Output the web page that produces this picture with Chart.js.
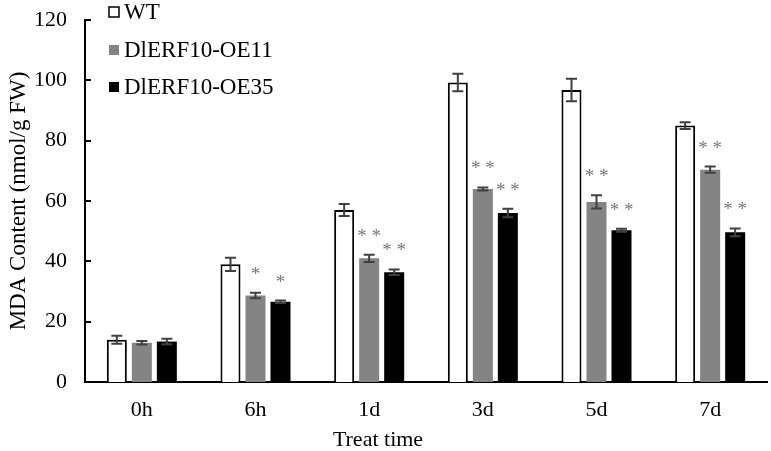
<!DOCTYPE html>
<html>
<head>
<meta charset="utf-8">
<script src="https://cdn.jsdelivr.net/npm/chart.js@4.4.1/dist/chart.umd.min.js"></script>
<style>
  html, body { margin: 0; padding: 0; background: #fff; }
  .chart-container { width: 771px; height: 451px; }
</style>
</head>
<body>
<div class="chart-container"><canvas id="mdaChart"></canvas></div>
<script>
const treatTimes = ['0h', '6h', '1d', '3d', '5d', '7d']
const seriesNames = ['WT', 'DlERF10-OE11', 'DlERF10-OE35']
const wtValues = [14, 39, 57, 99.3, 96.8, 85]
const oe11Values = [13, 28.7, 41, 64, 59.7, 70.4]
const oe35Values = [13.4, 26.6, 36.4, 56, 50.3, 49.6]
const wtErrors = [1.3, 2.2, 2.0, 2.9, 3.7, 1.1]
const oe11Errors = [0.6, 0.9, 1.2, 0.5, 2.2, 1.0]
const oe35Errors = [0.9, 0.4, 0.9, 1.4, 0.5, 1.3]
const oe11Marks = ['', '*', '**', '**', '**', '**']
const oe35Marks = ['', '*', '**', '**', '**', '**']
const yTicks = [0, 20, 40, 60, 80, 100, 120]

const FONT = 'Liberation Serif, Times New Roman, serif'

// error bars, significance marks, inward y ticks, legend and x title
const extrasPlugin = {
  id: 'extras',
  afterDatasetsDraw(chart) {
    const ctx = chart.ctx
    const y = chart.scales.y
    const errs = [wtErrors, oe11Errors, oe35Errors]
    const marks = [null, oe11Marks, oe35Marks]
    ctx.save()
    chart.data.datasets.forEach((ds, i) => {
      const meta = chart.getDatasetMeta(i)
      meta.data.forEach((bar, j) => {
        const v = ds.data[j], e = errs[i][j]
        const yTop = y.getPixelForValue(v + e)
        const yBot = y.getPixelForValue(v - e)
        ctx.strokeStyle = '#404040'
        ctx.lineWidth = 2
        ctx.beginPath()
        ctx.moveTo(bar.x, yTop); ctx.lineTo(bar.x, yBot)
        ctx.moveTo(bar.x - 5.5, yTop); ctx.lineTo(bar.x + 5.5, yTop)
        ctx.moveTo(bar.x - 5.5, yBot); ctx.lineTo(bar.x + 5.5, yBot)
        ctx.stroke()
        if (marks[i] && marks[i][j]) {
          ctx.fillStyle = '#777777'
          ctx.font = '19px ' + FONT
          ctx.textAlign = 'center'
          ctx.textBaseline = 'middle'
          ctx.fillText(marks[i][j].split('').join(' '), bar.x, yTop - 18)
        }
      })
    })
    ctx.restore()
  },
  afterDraw(chart) {
    const ctx = chart.ctx
    const y = chart.scales.y
    const area = chart.chartArea
    ctx.save()
    // y ticks pointing into the plot
    ctx.strokeStyle = '#000'
    ctx.lineWidth = 2
    ctx.beginPath()
    y.ticks.forEach(t => {
      const py = Math.round(y.getPixelForValue(t.value))
      ctx.moveTo(area.left, py); ctx.lineTo(area.left + 6, py)
    })
    ctx.stroke()
    // legend, stacked top-left inside the plot
    ctx.font = '23px ' + FONT
    ctx.textBaseline = 'middle'
    ctx.textAlign = 'left'
    const rows = [12, 50, 87]
    chart.data.datasets.forEach((ds, i) => {
      const cy = rows[i]
      ctx.fillStyle = ds.backgroundColor
      ctx.fillRect(109, cy - 5, 10, 10)
      ctx.strokeStyle = '#000'
      ctx.lineWidth = 1.5
      if (i === 0) ctx.strokeRect(109, cy - 5, 10, 10)
      ctx.fillStyle = '#000'
      ctx.fillText(ds.label, 124, cy + 1)
    })
    // x axis title
    ctx.font = '22px ' + FONT
    ctx.textAlign = 'center'
    ctx.fillText('Treat time', 378, 440)
    ctx.restore()
  }
}

const data = {
  labels: treatTimes,
  datasets: [
    { label: seriesNames[0], data: wtValues, backgroundColor: '#ffffff', borderColor: '#000000', borderWidth: 2 },
    { label: seriesNames[1], data: oe11Values, backgroundColor: '#848484', borderWidth: 0 },
    { label: seriesNames[2], data: oe35Values, backgroundColor: '#000000', borderWidth: 0 }
  ]
}

const config = {
  type: 'bar',
  data: data,
  options: {
    responsive: false,
    animation: false,
    maintainAspectRatio: false,
    layout: { padding: { top: 20, right: 4, left: 0, bottom: 0 } },
    categoryPercentage: 0.66,
    barPercentage: 0.8,
    plugins: {
      legend: { display: false },
      tooltip: { enabled: false }
    },
    scales: {
      x: {
        grid: { display: false, drawTicks: false },
        border: { display: true, color: '#000', width: 2 },
        ticks: { color: '#000', font: { family: FONT, size: 22 }, padding: 15 },
        afterFit: scale => {
          scale.height = 69
          scale.paddingLeft = 0
          scale.paddingRight = 0
        }
      },
      y: {
        min: 0,
        max: 120,
        afterBuildTicks: scale => { scale.ticks = yTicks.map(v => ({ value: v })) },
        grid: { display: false, drawTicks: false },
        border: { display: true, color: '#000', width: 2 },
        ticks: { color: '#000', font: { family: FONT, size: 22 }, padding: 18 },
        title: {
          display: true,
          text: 'MDA Content (nmol/g FW)',
          color: '#000',
          font: { family: FONT, size: 23 },
          padding: { top: 5, bottom: 0 }
        },
        afterFit: scale => {
          scale.width = 85
          scale.paddingTop = 0
          scale.paddingBottom = 0
        }
      }
    }
  },
  plugins: [extrasPlugin]
}

const canvas = document.getElementById('mdaChart')
canvas.width = 771
canvas.height = 451
const mdaChart = new Chart(canvas, config)
</script>
</body>
</html>
